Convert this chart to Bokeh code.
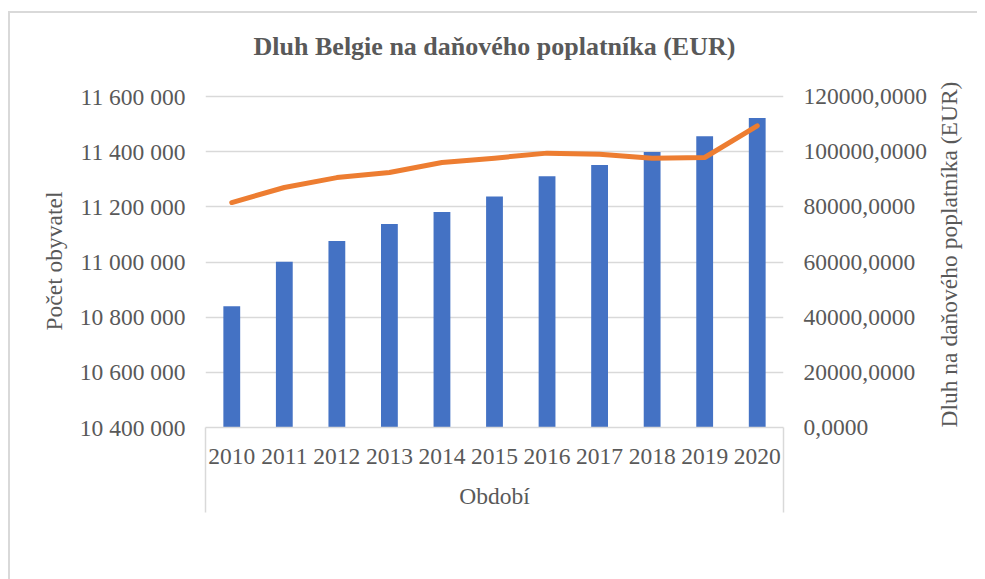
import math
from bokeh.plotting import figure
from bokeh.models import (Range1d, LinearAxis, FixedTicker,
                          CustomJSTickFormatter, Legend, LegendItem, ColumnDataSource)
from bokeh.embed import file_html
from bokeh.resources import INLINE

# ---- data ----
years = ["2010", "2011", "2012", "2013", "2014", "2015", "2016", "2017", "2018", "2019", "2020"]
population = [10839905, 11000638, 11075889, 11137974, 11180840, 11237274,
              11311117, 11351727, 11398589, 11455519, 11522440]
debt_per_taxpayer = [81560, 87000, 90600, 92440, 96060, 97650, 99470, 99100, 97650, 97880, 109370]
left_ticks = [10400000, 10600000, 10800000, 11000000, 11200000, 11400000, 11600000]
right_ticks = [0, 20000, 40000, 60000, 80000, 100000, 120000]

title_text = "Dluh Belgie na daňového poplatníka (EUR)"
left_title = "Počet obyvatel"
right_title = "Dluh na daňového poplatníka (EUR)"
x_title = "Období"
bar_label = "Počet obyvatel"
line_label = "Dluh na daňového poplatníka (EUR)"

# ---- style / layout constants (page pixels) ----
FONT = "Liberation Serif"
TXT = "#595959"
GRID = "#D9D9D9"
BLUE = "#4472C4"
ORANGE = "#ED7D31"
FS = "23.5px"

ORIG_X, ORIG_Y = 0, -7            # canvas origin on the page
W, H = 975, 584
FRAME_L, FRAME_R = 205, 783
FRAME_T, FRAME_B = 94, 427         # FRAME_B = lowest gridline / x axis
TOPGRID_PX = 96

L0, L1 = left_ticks[0], left_ticks[-1]
R0, R1 = right_ticks[0], right_ticks[-1]
uL = (L1 - L0) / (FRAME_B - TOPGRID_PX)
uR = (R1 - R0) / (FRAME_B - TOPGRID_PX)

n = len(years)
# category slots: each year occupies one unit, centred at index + 0.5
src = ColumnDataSource(data=dict(
    pos=[i + 0.5 for i in range(n)], year=years,
    population=population, debt=debt_per_taxpayer))

p = figure(x_range=Range1d(0, n),
           y_range=Range1d(L0, L1 + (TOPGRID_PX - FRAME_T) * uL),
           x_axis_type=None,
           frame_width=FRAME_R - FRAME_L, frame_height=FRAME_B - FRAME_T,
           min_border_left=FRAME_L - ORIG_X, min_border_right=W - (FRAME_R - ORIG_X),
           min_border_top=FRAME_T - ORIG_Y, min_border_bottom=H - (FRAME_B - ORIG_Y),
           output_backend="svg", toolbar_location=None, tools="")
p.extra_y_ranges = {"right": Range1d(R0, R1 + (TOPGRID_PX - FRAME_T) * uR)}
p.outline_line_color = None
p.background_fill_color = "white"
p.border_fill_color = None
# chart-area border (top and left edges) painted behind the transparent canvas border
p.styles = {
    "margin-top": f"{ORIG_Y}px",
    "background-color": "white",
    "background-image": "linear-gradient(#D9D9D9, #D9D9D9), linear-gradient(#D9D9D9, #D9D9D9)",
    "background-size": "100% 2px, 2px 100%",
    "background-position": f"8px {11 - ORIG_Y}px, 8px {11 - ORIG_Y}px",
    "background-repeat": "no-repeat",
}

# title
p.title.text = title_text
p.title.align = "center"
p.title.text_font = FONT
p.title.text_font_size = "26px"
p.title.text_font_style = "bold"
p.title.text_color = TXT
p.title.standoff = 68

# grid
p.ygrid.ticker = FixedTicker(ticks=left_ticks)
p.ygrid.grid_line_color = GRID
p.ygrid.grid_line_width = 1.5


def style_axis(ax):
    ax.axis_line_color = None
    ax.major_tick_line_color = None
    ax.minor_tick_line_color = None
    ax.major_tick_out = 0
    ax.major_tick_in = 0
    ax.minor_tick_out = 0
    ax.minor_tick_in = 0
    ax.major_label_text_font = FONT
    ax.major_label_text_font_size = FS
    ax.major_label_text_color = TXT
    ax.axis_label_text_font = FONT
    ax.axis_label_text_font_size = FS
    ax.axis_label_text_font_style = "normal"
    ax.axis_label_text_color = TXT
    ax.major_label_standoff = 20


la = p.yaxis[0]
style_axis(la)
la.ticker = FixedTicker(ticks=left_ticks)
la.formatter = CustomJSTickFormatter(
    code="return Math.round(tick).toString().replace(/\\B(?=(\\d{3})+(?!\\d))/g, ' ');")
la.axis_label = left_title
la.axis_label_standoff = 10

ra = LinearAxis(y_range_name="right", ticker=FixedTicker(ticks=right_ticks))
style_axis(ra)
ra.formatter = CustomJSTickFormatter(code="return tick.toFixed(4).replace('.', ',');")
ra.axis_label = right_title
ra.axis_label_standoff = 19
try:
    ra.axis_label_orientation = math.pi / 2   # read bottom-to-top like the reference
except Exception:
    pass
try:
    ra.axis_label_align = "start"
except Exception:
    pass
p.add_layout(ra, "right")

# category axis: year labels, group box edges (minor ticks drawn outward) and group title
xa = LinearAxis(ticker=FixedTicker(ticks=[i + 0.5 for i in range(n)],
                                   minor_ticks=[0.001, n - 0.001]))
style_axis(xa)
xa.formatter = CustomJSTickFormatter(args=dict(labels=years),
                                     code="return labels[Math.floor(tick)];")
xa.axis_line_color = GRID
xa.axis_line_width = 1.5
xa.minor_tick_line_color = GRID
xa.minor_tick_line_width = 1.5
xa.minor_tick_out = 0
xa.minor_tick_in = -85
xa.major_label_standoff = 21
xa.axis_label = x_title
xa.axis_label_standoff = 16
p.add_layout(xa, "below")

# bars and line
bars = p.vbar(x="pos", top="population", bottom=L0, width=0.32, source=src,
              fill_color=BLUE, line_color=None)
line = p.line(x="pos", y="debt", y_range_name="right", source=src,
              line_color=ORANGE, line_width=5, line_cap="round", line_join="round")

legend = Legend(items=[LegendItem(label=bar_label, renderers=[bars]),
                       LegendItem(label=line_label, renderers=[line])],
                orientation="horizontal", location=(176 - FRAME_L, 99),
                glyph_width=51, glyph_height=12, label_standoff=6, spacing=61,
                padding=0, margin=15, border_line_color=None, background_fill_alpha=0,
                label_text_font="'Liberation Serif'", label_text_font_size=FS,
                label_text_color=TXT, label_height=26)
p.add_layout(legend, "below")

open("out.html", "w").write(file_html(p, INLINE))
